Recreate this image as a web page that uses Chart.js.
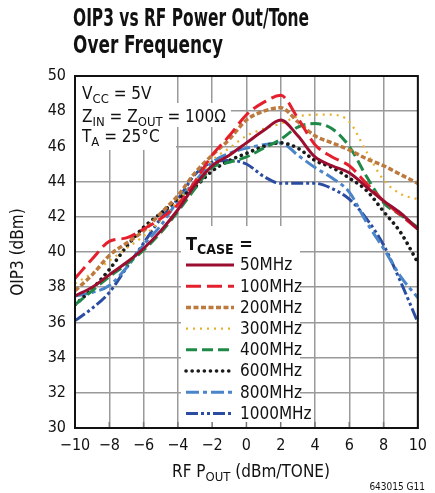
<!DOCTYPE html>
<html>
<head>
<meta charset="utf-8">
<script src="https://cdn.jsdelivr.net/npm/chart.js@4/dist/chart.umd.min.js"></script>
<style>
html, body { margin: 0; padding: 0; background: #fff; }
</style>
</head>
<body>
<canvas id="oip3" width="435" height="493"></canvas>
<script>
// RF output power per tone (dBm)
const pout = [-10, -9, -8, -7, -6, -5, -4, -3, -2, -1, 0, 1, 2, 3, 4, 5, 6, 7, 8, 9, 10];

// OIP3 (dBm), one array per frequency
const oip3_50 = [37.5, 38.0, 38.7, 39.4, 40.2, 41.2, 42.4, 43.8, 44.9, 45.5, 46.2, 46.9, 47.5, 46.6, 45.4, 44.9, 44.5, 43.7, 42.9, 42.2, 41.3];
const oip3_100 = [38.5, 39.6, 40.6, 40.8, 41.3, 41.9, 42.7, 44.0, 45.5, 46.6, 47.8, 48.5, 48.9, 47.6, 46.1, 45.4, 44.9, 43.9, 42.9, 42.1, 41.3];
const oip3_200 = [37.8, 38.7, 39.8, 40.5, 41.2, 42.2, 43.2, 44.5, 45.5, 46.4, 47.5, 48.0, 48.2, 47.4, 46.6, 46.2, 45.8, 45.3, 44.9, 44.4, 43.9];
const oip3_300 = [38.2, 38.8, 39.5, 40.2, 40.9, 41.8, 42.9, 44.0, 45.2, 45.9, 46.6, 47.0, 47.3, 47.7, 47.8, 47.8, 47.4, 45.7, 44.1, 43.3, 43.0];
const oip3_400 = [37.0, 37.8, 38.6, 39.3, 40.1, 41.1, 42.3, 43.6, 44.8, 45.1, 45.4, 45.9, 46.4, 47.1, 47.3, 47.0, 46.0, 44.3, 42.8, 42.1, 41.4];
const oip3_600 = [37.0, 37.9, 39.0, 40.3, 41.4, 42.2, 43.0, 43.7, 44.6, 45.2, 45.6, 46.0, 46.2, 45.9, 45.2, 44.8, 44.2, 43.5, 42.3, 41.1, 39.4];
const oip3_800 = [37.5, 37.7, 38.1, 39.1, 40.4, 41.5, 42.9, 44.0, 45.1, 45.6, 45.9, 46.1, 46.2, 45.5, 44.8, 44.2, 43.4, 41.7, 40.2, 38.6, 37.4];
const oip3_1000 = [36.1, 36.8, 37.7, 39.1, 40.5, 41.9, 43.0, 44.4, 45.1, 45.2, 45.0, 44.3, 43.9, 43.9, 43.9, 43.6, 43.0, 41.9, 40.4, 38.3, 36.0];

const freqLabels = ['50MHz', '100MHz', '200MHz', '300MHz', '400MHz', '600MHz', '800MHz', '1000MHz'];
const xTicks = [-10, -8, -6, -4, -2, 0, 2, 4, 6, 8, 10];
const yTicks = [30, 32, 34, 36, 38, 40, 42, 44, 46, 48, 50];

const NARROW = '"Liberation Sans Narrow", "DejaVu Sans Condensed", "Liberation Sans", sans-serif';

function pts(ys) {
  return ys.map((v, i) => ({ x: pout[i], y: v }));
}

function series(label, ys, color, dash, width, cap) {
  return {
    label: label,
    data: pts(ys),
    borderColor: color,
    borderDash: dash,
    borderWidth: width || 3,
    borderCapStyle: cap || 'butt',
    pointRadius: 0,
    fill: false,
    cubicInterpolationMode: 'monotone'
  };
}

// text with subscripts: parts = [[text, isSub], ...]
function rich(ctx, parts, x, y, size, bold, align) {
  const w = parts.map(p => {
    ctx.font = (bold ? 'bold ' : '') + (p[1] ? Math.round(size * 0.75) : size) + 'px ' + NARROW;
    return ctx.measureText(p[0]).width;
  });
  let total = w.reduce((a, b) => a + b, 0);
  let cx = align === 'center' ? x - total / 2 : (align === 'right' ? x - total : x);
  ctx.textAlign = 'left';
  ctx.textBaseline = 'alphabetic';
  parts.forEach((p, i) => {
    ctx.font = (bold ? 'bold ' : '') + (p[1] ? Math.round(size * 0.75) : size) + 'px ' + NARROW;
    ctx.fillText(p[0], cx, p[1] ? y + size * 0.22 : y);
    cx += w[i];
  });
  return total;
}

// squeeze text horizontally (the original uses a condensed face)
function squeezed(ctx, text, x, y, sx) {
  ctx.save();
  ctx.translate(x, y);
  ctx.scale(sx, 1);
  ctx.textAlign = 'left';
  ctx.fillText(text, 0, 0);
  ctx.restore();
}

const boxes = {
  id: 'boxes',
  beforeDatasetsDraw(chart) {
    const ctx = chart.ctx;
    const a = chart.chartArea;
    ctx.save();
    ctx.fillStyle = '#fff';
    // condition note
    ctx.fillRect(a.left + 1, a.top + 1, 100, 26);
    ctx.fillRect(a.left + 1, a.top + 27, 155, 24);
    ctx.fillRect(a.left + 1, a.top + 51, 100, 23);
    // legend panel
    ctx.fillRect(181, 226, 119, a.bottom - 226 - 1);
    // small inner ticks on the bottom axis
    ctx.strokeStyle = '#777';
    ctx.lineWidth = 1.5;
    xTicks.forEach(t => {
      const px = chart.scales.x.getPixelForValue(t);
      ctx.beginPath();
      ctx.moveTo(px, a.bottom);
      ctx.lineTo(px, a.bottom - 6);
      ctx.stroke();
    });
    ctx.restore();
  },
  afterDraw(chart) {
    const ctx = chart.ctx;
    const a = chart.chartArea;
    ctx.save();
    // frame
    ctx.strokeStyle = '#111';
    ctx.lineWidth = 2;
    ctx.strokeRect(a.left, a.top, a.right - a.left, a.bottom - a.top);

    ctx.fillStyle = '#111';
    // title
    ctx.font = 'bold 24px ' + NARROW;
    ctx.textBaseline = 'alphabetic';
    const sx1 = Math.min(1, 236 / ctx.measureText('OIP3 vs RF Power Out/Tone').width);
    const sx2 = Math.min(1, 150 / ctx.measureText('Over Frequency').width);
    squeezed(ctx, 'OIP3 vs RF Power Out/Tone', 73, 26, sx1);
    squeezed(ctx, 'Over Frequency', 73, 53, sx2);

    // condition note
    rich(ctx, [['V', 0], ['CC', 1], [' = 5V', 0]], 82, 99, 17, false);
    rich(ctx, [['Z', 0], ['IN', 1], [' = Z', 0], ['OUT', 1], [' = 100Ω', 0]], 82, 122, 17, false);
    rich(ctx, [['T', 0], ['A', 1], [' = 25°C', 0]], 82, 142, 17, false);

    // legend
    rich(ctx, [['T', 0], ['CASE', 1], [' =', 0]], 186, 250, 18, true);
    chart.data.datasets.forEach((ds, i) => {
      const yy = 265 + i * 21.2;
      ctx.save();
      ctx.strokeStyle = ds.borderColor;
      ctx.lineWidth = ds.borderWidth;
      ctx.lineCap = ds.borderCapStyle;
      ctx.setLineDash(ds.borderDash || []);
      ctx.beginPath();
      ctx.moveTo(186, yy);
      ctx.lineTo(234, yy);
      ctx.stroke();
      ctx.restore();
      ctx.font = '17px ' + NARROW;
      ctx.fillStyle = '#111';
      ctx.textAlign = 'left';
      ctx.textBaseline = 'middle';
      ctx.fillText(ds.label, 240, yy + 1);
    });

    // axis titles
    ctx.textBaseline = 'alphabetic';
    rich(ctx, [['RF P', 0], ['OUT', 1], [' (dBm/TONE)', 0]], 251, 477, 17, false, 'center');
    ctx.save();
    ctx.translate(23, 252);
    ctx.rotate(-Math.PI / 2);
    ctx.font = '17px ' + NARROW;
    ctx.textAlign = 'center';
    ctx.fillText('OIP3 (dBm)', 0, 0);
    ctx.restore();

    // figure id
    ctx.font = '10px ' + NARROW;
    ctx.textAlign = 'right';
    ctx.fillText('643015 G11', 425, 490);
    ctx.restore();
  }
};

new Chart(document.getElementById('oip3'), {
  type: 'line',
  data: {
    datasets: [
      series(freqLabels[0], oip3_50, '#9b0e30', []),
      series(freqLabels[1], oip3_100, '#e5202e', [15, 6]),
      series(freqLabels[2], oip3_200, '#bd7a3e', [5, 2.5], 3.5),
      series(freqLabels[3], oip3_300, '#e6b12c', [2, 5], 2.2),
      series(freqLabels[4], oip3_400, '#1f8a47', [11, 5]),
      series(freqLabels[5], oip3_600, '#1a1a1a', [0.1, 6], 3.6, 'round'),
      series(freqLabels[6], oip3_800, '#4a85c9', [13, 4, 4, 4]),
      series(freqLabels[7], oip3_1000, '#2a4da1', [12, 3, 3, 3, 3, 3])
    ]
  },
  options: {
    responsive: false,
    devicePixelRatio: 1,
    animation: false,
    layout: { padding: { top: 76, right: 8, left: 0, bottom: 0 } },
    plugins: {
      legend: { display: false },
      title: { display: false },
      tooltip: { enabled: false }
    },
    scales: {
      x: {
        type: 'linear',
        min: -10,
        max: 10,
        afterFit: s => { s.height = 65; },
        afterBuildTicks: s => { s.ticks = xTicks.map(v => ({ value: v })); },
        ticks: {
          autoSkip: false,
          padding: 8,
          color: '#111',
          font: { family: NARROW, size: 16 },
          maxRotation: 0,
          callback: v => String(v).replace('-', '\u2212')
        },
        grid: { color: '#9a9a9a', lineWidth: 1.5, drawTicks: false },
        border: { color: '#111', width: 2 }
      },
      y: {
        min: 30,
        max: 50,
        afterFit: s => { s.width = 75; },
        afterBuildTicks: s => { s.ticks = yTicks.map(v => ({ value: v })); },
        ticks: {
          autoSkip: false,
          padding: 9,
          color: '#111',
          font: { family: NARROW, size: 16 }
        },
        grid: { color: '#9a9a9a', lineWidth: 1.5, drawTicks: false },
        border: { color: '#111', width: 2 }
      }
    }
  },
  plugins: [boxes]
});
</script>
</body>
</html>
